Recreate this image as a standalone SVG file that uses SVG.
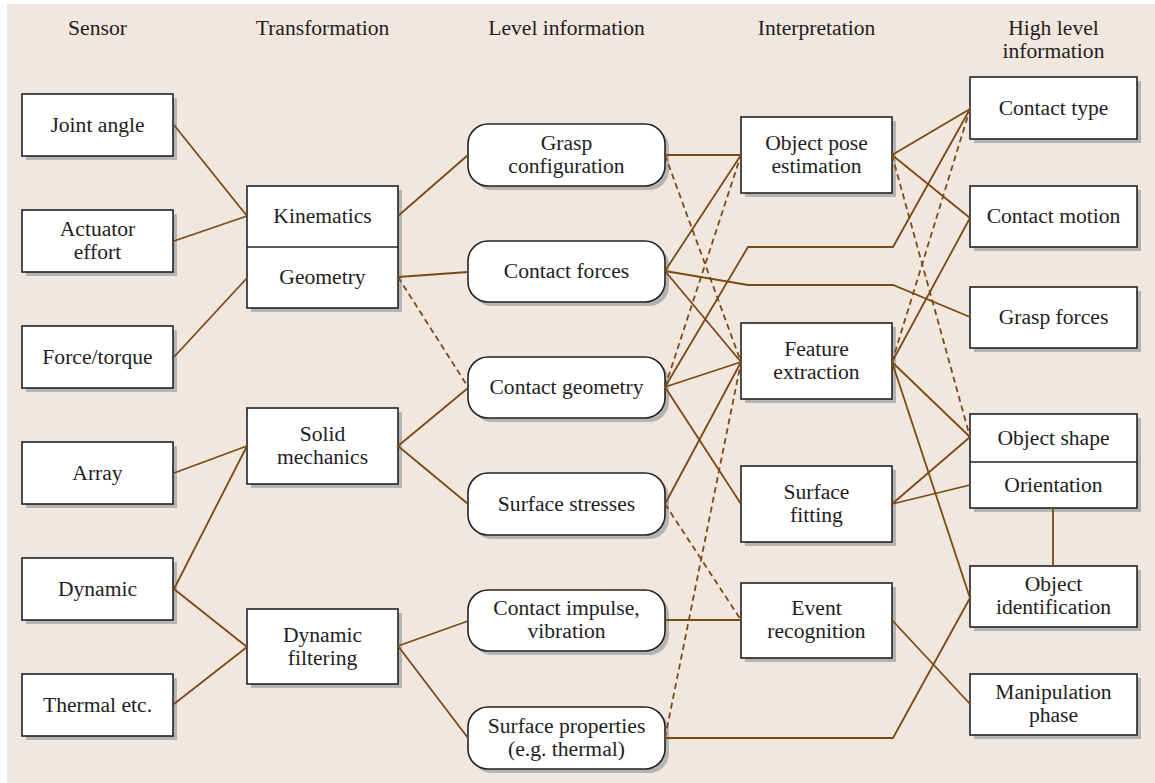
<svg xmlns="http://www.w3.org/2000/svg" width="1155" height="783" viewBox="0 0 1155 783">
<defs>
<style>
.bg{fill:#f2e7de}
.sh{fill:#b4b4b4}
.bx{fill:#ffffff;stroke:#222222;stroke-width:1.6}
.dv{stroke:#222222;stroke-width:1.6;fill:none}
text{font-family:"Liberation Serif","Times New Roman",serif;font-size:21.6px;fill:#1e1e1e;text-anchor:middle}
.c{fill:none;stroke:#7a4a14;stroke-width:1.8}
.d{fill:none;stroke:#7a4a14;stroke-width:1.8;stroke-dasharray:6 4}
</style>
</defs>
<rect class="bg" x="7" y="4" width="1148" height="779"/>
<g id="headers">
<text x="97.5" y="35">Sensor</text>
<text x="322.5" y="35">Transformation</text>
<text x="566.5" y="35">Level information</text>
<text x="816.5" y="35">Interpretation</text>
<text x="1053.5" y="35">High level</text>
<text x="1053.5" y="58">information</text>
</g>
<g id="joint-angle"><rect class="sh" x="26" y="98" width="151" height="62"/><rect class="bx" x="22" y="94" width="151" height="62"/><text x="97.5" y="132">Joint angle</text></g>
<g id="actuator-effort"><rect class="sh" x="26" y="214" width="151" height="62"/><rect class="bx" x="22" y="210" width="151" height="62"/><text x="97.5" y="236">Actuator</text><text x="97.5" y="259">effort</text></g>
<g id="force-torque"><rect class="sh" x="26" y="330" width="151" height="62"/><rect class="bx" x="22" y="326" width="151" height="62"/><text x="97.5" y="364">Force/torque</text></g>
<g id="array"><rect class="sh" x="26" y="446" width="151" height="62"/><rect class="bx" x="22" y="442" width="151" height="62"/><text x="97.5" y="480">Array</text></g>
<g id="dynamic"><rect class="sh" x="26" y="562" width="151" height="62"/><rect class="bx" x="22" y="558" width="151" height="62"/><text x="97.5" y="596">Dynamic</text></g>
<g id="thermal"><rect class="sh" x="26" y="678" width="151" height="62"/><rect class="bx" x="22" y="674" width="151" height="62"/><text x="97.5" y="712">Thermal etc.</text></g>

<g id="kinematics-geometry"><rect class="sh" x="251" y="190" width="151" height="122"/><rect class="bx" x="247" y="186" width="151" height="122"/><line class="dv" x1="247" y1="247" x2="398" y2="247"/><text x="322.5" y="223">Kinematics</text><text x="322.5" y="284">Geometry</text></g>
<g id="solid-mechanics"><rect class="sh" x="251" y="412" width="151" height="76"/><rect class="bx" x="247" y="408" width="151" height="76"/><text x="322.5" y="441">Solid</text><text x="322.5" y="464">mechanics</text></g>
<g id="dynamic-filtering"><rect class="sh" x="251" y="613" width="151" height="75"/><rect class="bx" x="247" y="609" width="151" height="75"/><text x="322.5" y="642">Dynamic</text><text x="322.5" y="665">filtering</text></g>

<g id="grasp-configuration"><rect class="sh" x="472" y="128" width="197" height="62" rx="20"/><rect class="bx" x="468" y="124" width="197" height="62" rx="20"/><text x="566.5" y="150">Grasp</text><text x="566.5" y="173">configuration</text></g>
<g id="contact-forces"><rect class="sh" x="472" y="245" width="197" height="61" rx="20"/><rect class="bx" x="468" y="241" width="197" height="61" rx="20"/><text x="566.5" y="278">Contact forces</text></g>
<g id="contact-geometry"><rect class="sh" x="472" y="361" width="197" height="61" rx="20"/><rect class="bx" x="468" y="357" width="197" height="61" rx="20"/><text x="566.5" y="394">Contact geometry</text></g>
<g id="surface-stresses"><rect class="sh" x="472" y="477" width="197" height="62" rx="20"/><rect class="bx" x="468" y="473" width="197" height="62" rx="20"/><text x="566.5" y="511">Surface stresses</text></g>
<g id="contact-impulse"><rect class="sh" x="472" y="594" width="197" height="61" rx="20"/><rect class="bx" x="468" y="590" width="197" height="61" rx="20"/><text x="566.5" y="615">Contact impulse,</text><text x="566.5" y="638">vibration</text></g>
<g id="surface-properties"><rect class="sh" x="472" y="711" width="197" height="62" rx="20"/><rect class="bx" x="468" y="707" width="197" height="62" rx="20"/><text x="566.5" y="733">Surface properties</text><text x="566.5" y="756">(e.g. thermal)</text></g>

<g id="object-pose"><rect class="sh" x="745" y="121" width="151" height="76"/><rect class="bx" x="741" y="117" width="151" height="76"/><text x="816.5" y="150">Object pose</text><text x="816.5" y="173">estimation</text></g>
<g id="feature-extraction"><rect class="sh" x="745" y="327" width="151" height="76"/><rect class="bx" x="741" y="323" width="151" height="76"/><text x="816.5" y="356">Feature</text><text x="816.5" y="379">extraction</text></g>
<g id="surface-fitting"><rect class="sh" x="745" y="470" width="151" height="76"/><rect class="bx" x="741" y="466" width="151" height="76"/><text x="816.5" y="499">Surface</text><text x="816.5" y="522">fitting</text></g>
<g id="event-recognition"><rect class="sh" x="745" y="587" width="151" height="75"/><rect class="bx" x="741" y="583" width="151" height="75"/><text x="816.5" y="615">Event</text><text x="816.5" y="638">recognition</text></g>

<g id="contact-type"><rect class="sh" x="974" y="81" width="167" height="62"/><rect class="bx" x="970" y="77" width="167" height="62"/><text x="1053.5" y="115">Contact type</text></g>
<g id="contact-motion"><rect class="sh" x="974" y="190" width="167" height="61"/><rect class="bx" x="970" y="186" width="167" height="61"/><text x="1053.5" y="223">Contact motion</text></g>
<g id="grasp-forces"><rect class="sh" x="974" y="291" width="167" height="61"/><rect class="bx" x="970" y="287" width="167" height="61"/><text x="1053.5" y="324">Grasp forces</text></g>
<g id="object-shape-orientation"><rect class="sh" x="974" y="418" width="167" height="94"/><rect class="bx" x="970" y="414" width="167" height="94"/><line class="dv" x1="970" y1="462" x2="1137" y2="462"/><text x="1053.5" y="445">Object shape</text><text x="1053.5" y="492">Orientation</text></g>
<g id="object-identification"><rect class="sh" x="974" y="570" width="167" height="61"/><rect class="bx" x="970" y="566" width="167" height="61"/><text x="1053.5" y="591">Object</text><text x="1053.5" y="614">identification</text></g>
<g id="manipulation-phase"><rect class="sh" x="974" y="678" width="167" height="61"/><rect class="bx" x="970" y="674" width="167" height="61"/><text x="1053.5" y="699">Manipulation</text><text x="1053.5" y="722">phase</text></g>

<g id="connectors">
<line class="c" x1="174" y1="125" x2="247" y2="216"/>
<line class="c" x1="174" y1="241" x2="247" y2="216"/>
<line class="c" x1="174" y1="357" x2="247" y2="278"/>
<line class="c" x1="174" y1="473" x2="247" y2="446"/>
<line class="c" x1="174" y1="589" x2="247" y2="446"/>
<line class="c" x1="174" y1="589" x2="247" y2="647"/>
<line class="c" x1="174" y1="704" x2="247" y2="647"/>
<line class="c" x1="398" y1="216" x2="468" y2="155"/>
<line class="c" x1="398" y1="277" x2="468" y2="272"/>
<line class="d" x1="398" y1="277" x2="468" y2="387"/>
<line class="c" x1="398" y1="446" x2="468" y2="388"/>
<line class="c" x1="398" y1="446" x2="468" y2="504"/>
<line class="c" x1="398" y1="646" x2="468" y2="621"/>
<line class="c" x1="398" y1="646" x2="468" y2="738"/>
<line class="c" x1="665" y1="155" x2="741" y2="155"/>
<line class="d" x1="665" y1="155" x2="741" y2="362"/>
<line class="c" x1="665" y1="271" x2="741" y2="155"/>
<line class="c" x1="665" y1="271" x2="741" y2="362"/>
<polyline class="c" points="665,271 748,285 893,285 970,317"/>
<line class="d" x1="665" y1="387" x2="741" y2="155"/>
<line class="c" x1="665" y1="387" x2="741" y2="362"/>
<polyline class="c" points="665,387 748,247 893,247 970,109"/>
<line class="c" x1="665" y1="387" x2="741" y2="504"/>
<line class="c" x1="665" y1="504" x2="741" y2="362"/>
<line class="d" x1="665" y1="504" x2="741" y2="620"/>
<line class="c" x1="665" y1="620" x2="741" y2="620"/>
<line class="d" x1="665" y1="738" x2="741" y2="362"/>
<polyline class="c" points="665,738 893,738 970,598"/>
<line class="c" x1="892" y1="155" x2="970" y2="109"/>
<line class="c" x1="892" y1="155" x2="970" y2="218"/>
<line class="d" x1="892" y1="155" x2="970" y2="437"/>
<line class="d" x1="892" y1="362" x2="970" y2="109"/>
<line class="c" x1="892" y1="362" x2="970" y2="218"/>
<line class="c" x1="892" y1="362" x2="970" y2="437"/>
<line class="c" x1="892" y1="362" x2="970" y2="598"/>
<line class="c" x1="892" y1="504" x2="970" y2="437"/>
<line class="c" x1="892" y1="504" x2="970" y2="485"/>
<line class="c" x1="892" y1="620" x2="970" y2="704"/>
<line class="c" x1="1053" y1="508" x2="1053" y2="566"/>
</g>
</svg>
